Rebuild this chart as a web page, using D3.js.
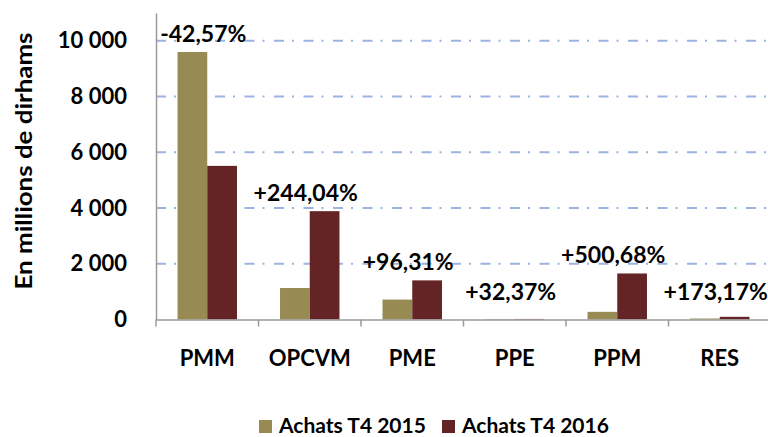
<!DOCTYPE html>
<html lang="fr">
<head>
    <meta charset="UTF-8"/>
    <title>Achats T4 2015 / 2016</title>
    <script src="https://d3js.org/d3.v7.min.js"></script>
    <style>
        body { margin: 0; background: #fff; }
        text { font-family: Lato, "Open Sans", sans-serif; font-weight: bold; fill: #000; }
    </style>
</head>
<body>
    <div id="chart"></div>

    <script>
        var categories = ["PMM", "OPCVM", "PME", "PPE", "PPM", "RES"];
        var achats2015 = [9600, 1130, 715, 15, 275, 35];
        var achats2016 = [5513, 3888, 1404, 20, 1652, 96];
        var variations = ["-42,57%", "+244,04%", "+96,31%", "+32,37%", "+500,68%", "+173,17%"];
        var yTicks = [0, 2000, 4000, 6000, 8000, 10000];
        var seriesNames = ["Achats T4 2015", "Achats T4 2016"];
        var colors = ["#978b53", "#642425"];

        var w = 768;
        var h = 437;
        // plot area (avoid the name "top", it is window.top)
        var plotLeft = 156, plotRight = 771, plotTop = 13, plotBottom = 319.5;

        var svg = d3.select("#chart")
                    .append("svg")
                    .attr("width", w)
                    .attr("height", h);

        var xScale = d3.scaleBand()
                        .domain(categories)
                        .range([plotLeft, plotRight])
                        .paddingInner(0.42)
                        .paddingOuter(0.21);

        var xSub = d3.scaleBand()
                     .domain([0, 1])
                     .range([0, xScale.bandwidth()]);

        var yScale = d3.scaleLinear()
                       .domain([0, 11000])
                       .range([plotBottom, plotTop]);

        // gridlines (dash-dot)
        svg.append("g")
           .selectAll("line")
           .data(yTicks.filter(function(d) { return d > 0; }))
           .enter()
           .append("line")
           .attr("x1", plotLeft)
           .attr("x2", w)
           .attr("y1", function(d) { return yScale(d); })
           .attr("y2", function(d) { return yScale(d); })
           .attr("stroke", "#9cb3e2")
           .attr("stroke-width", 2)
           .attr("stroke-dasharray", "10,8,2,9.5");

        // bars
        var groups = svg.append("g")
            .selectAll("g")
            .data(categories)
            .enter()
            .append("g")
            .attr("transform", function(d) { return "translate(" + xScale(d) + ",0)"; });

        groups.selectAll("rect")
            .data(function(d, i) { return [achats2015[i], achats2016[i]]; })
            .enter()
            .append("rect")
            .attr("x", function(d, j) { return xSub(j); })
            .attr("width", xSub.bandwidth())
            .attr("y", function(d) { return yScale(d); })
            .attr("height", function(d) { return yScale(0) - yScale(d); })
            .attr("fill", function(d, j) { return colors[j]; });

        // y axis
        var yAxis = d3.axisLeft(yScale)
                      .tickValues(yTicks)
                      .tickSize(0)
                      .tickPadding(29)
                      .tickFormat(function(d) { return d3.format(",")(d).replace(",", " "); });
        var gy = svg.append("g")
           .attr("transform", "translate(" + plotLeft + ",0)")
           .call(yAxis);
        gy.select(".domain").attr("stroke", "#9a9a9a").attr("stroke-width", 1.5);
        gy.selectAll("text")
          .attr("font-family", "Lato, sans-serif")
          .attr("font-weight", "bold")
          .attr("font-size", "22px")
          .attr("fill", "#000");

        // x axis
        var xAxis = d3.axisBottom(xScale).tickSize(0).tickFormat("");
        var gx = svg.append("g")
           .attr("transform", "translate(0," + plotBottom + ")")
           .call(xAxis);
        gx.select(".domain").attr("stroke", "#9a9a9a").attr("stroke-width", 1.5);
        gx.selectAll(".tick").remove();

        // category separators
        var step = xScale.step();
        svg.append("g")
           .selectAll("line")
           .data(d3.range(categories.length + 1))
           .enter()
           .append("line")
           .attr("x1", function(d) { return plotLeft + d * step; })
           .attr("x2", function(d) { return plotLeft + d * step; })
           .attr("y1", plotBottom)
           .attr("y2", plotBottom + 7)
           .attr("stroke", "#9a9a9a")
           .attr("stroke-width", 1.5);

        // category labels
        svg.append("g")
           .selectAll("text")
           .data(categories)
           .enter()
           .append("text")
           .attr("x", function(d) { return xScale(d) + xScale.bandwidth() / 2; })
           .attr("y", 366)
           .attr("text-anchor", "middle")
           .attr("font-size", "22px")
           .text(function(d) { return d; });

        // variation labels, placed above the taller bar
        svg.append("g")
           .selectAll("text")
           .data(categories)
           .enter()
           .append("text")
           .attr("x", function(d) { return xScale(d) + xScale.bandwidth() / 2 - 4; })
           .attr("y", function(d, i) {
               var barTop = yScale(Math.max(achats2015[i], achats2016[i])) - 10;
               return Math.min(barTop, yScale(0) - 20);
           })
           .attr("text-anchor", "middle")
           .attr("font-size", "23px")
           .text(function(d, i) { return variations[i]; });

        // y axis title
        svg.append("text")
           .attr("transform", "rotate(-90)")
           .attr("x", -161)
           .attr("y", 32)
           .attr("text-anchor", "middle")
           .attr("font-size", "22px")
           .attr("textLength", 257)
           .attr("lengthAdjust", "spacingAndGlyphs")
           .text("En millions de dirhams");

        // legend
        var legendX = [259, 442];
        var legend = svg.append("g")
            .selectAll("g")
            .data(seriesNames)
            .enter()
            .append("g")
            .attr("transform", function(d, i) { return "translate(" + legendX[i] + ",420)"; });
        legend.append("rect")
            .attr("width", 13)
            .attr("height", 13)
            .attr("fill", function(d, i) { return colors[i]; });
        legend.append("text")
            .attr("x", 20)
            .attr("y", 13)
            .attr("font-size", "21px")
            .text(function(d) { return d; });
    </script>
</body>
</html>
